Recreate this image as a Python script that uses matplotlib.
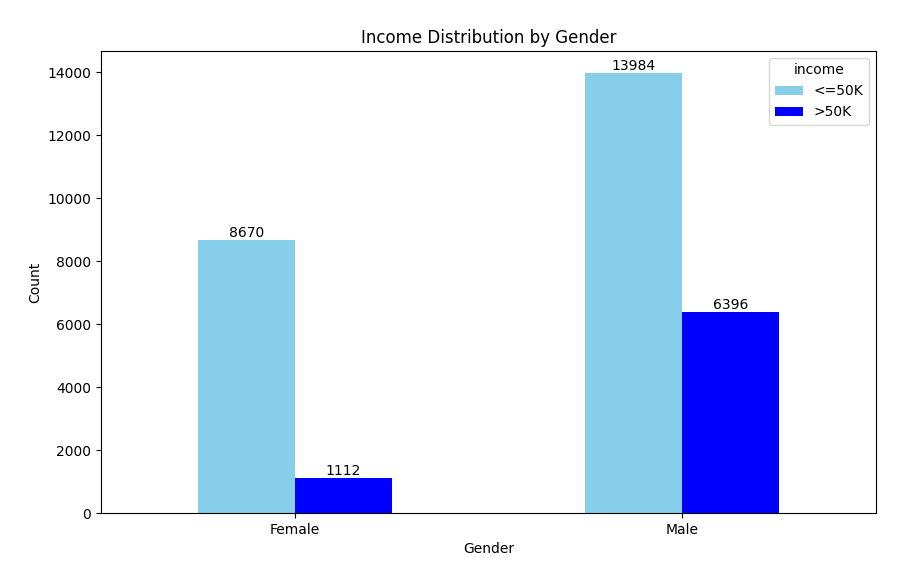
import matplotlib
matplotlib.use("Agg")
import matplotlib.pyplot as plt
import numpy as np

genders = ["Female", "Male"]
income_levels = ["<=50K", ">50K"]
le50k = [8670, 13984]
gt50k = [1112, 6396]
colors = ["skyblue", "blue"]

fig = plt.figure(figsize=(9.1, 5.66), dpi=100)
ax = fig.add_axes([0.111, 0.0936, 0.8516, 0.8164])
x = np.arange(len(genders))
w = 0.25
b1 = ax.bar(x - w/2, le50k, width=w, color=colors[0], label=income_levels[0])
b2 = ax.bar(x + w/2, gt50k, width=w, color=colors[1], label=income_levels[1])
ax.bar_label(b1)
ax.bar_label(b2)
ax.set_xlim(-0.5, 1.5)
ax.set_xticks(x)
ax.set_xticklabels(genders, rotation=0)
ax.set_xlabel("Gender")
ax.set_ylabel("Count")
ax.set_title("Income Distribution by Gender")
ax.legend(title="income", loc="upper right")
fig.savefig("out.png", dpi=100)
